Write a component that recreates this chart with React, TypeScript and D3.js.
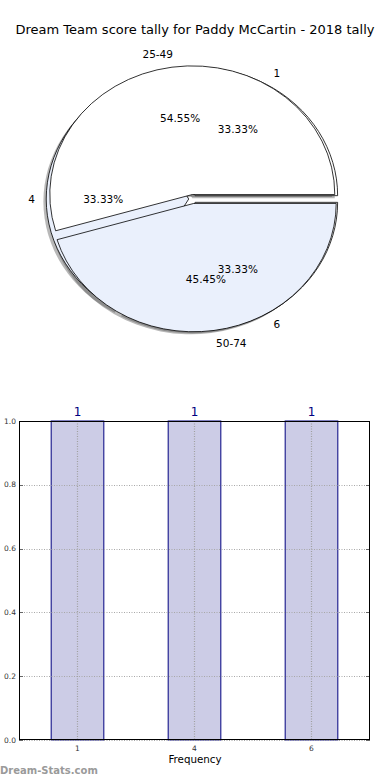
import { FC, useEffect, useRef } from 'react';
import * as d3 from 'd3';

const title = 'Dream Team score tally for Paddy McCartin - 2018 tally';

// outer pie: score bands
const bandLabels = ['25-49', '50-74'];
const bandCounts = [6, 5];

// inner pie: how often each score came up
const scoreLabels = ['1', '4', '6'];
const scoreCounts = [1, 1, 1];

// frequency bars
const freqCategories = ['1', '4', '6'];
const freqValues = [1, 1, 1];
const yTicks = [0, 0.2, 0.4, 0.6, 0.8, 1.0];

const sliceColors = ['#ffffff', '#eaf0fc'];

const App: FC = () => {
  const chartRef = useRef<SVGSVGElement>(null);

  useEffect(() => {
    document.body.style.margin = '0';
    const font = '"DejaVu Sans", sans-serif';
    const svg = d3.select(chartRef.current);
    svg.selectAll('*').remove();

    svg
      .append('text')
      .attr('x', 195)
      .attr('y', 34)
      .attr('text-anchor', 'middle')
      .style('font-family', font)
      .style('font-size', '13px')
      .text(title);

    // Pie, stretched into an ellipse (unequal aspect)
    const cx = 193;
    const cy = 199;
    const sx = 142.5;
    const sy = 128.5;

    const pies = [
      { labels: scoreLabels, values: scoreCounts, explode: 0.03 },
      { labels: bandLabels, values: bandCounts, explode: 0.035 },
    ];

    const pieGen = d3
      .pie<number>()
      .sort(null)
      .startAngle(Math.PI / 2)
      .endAngle(Math.PI / 2 - 2 * Math.PI);
    const arcGen = d3.arc<d3.PieArcDatum<number>>().innerRadius(0).outerRadius(1);

    const shadowLayer = svg.append('g');
    const wedgeLayer = svg.append('g');
    const textLayer = svg
      .append('g')
      .style('font-family', font)
      .style('font-size', '10.5px');

    pies.forEach((p) => {
      const total = d3.sum(p.values);
      const arcs = pieGen(p.values);
      arcs.forEach((a, i) => {
        const m = (a.startAngle + a.endAngle) / 2;
        const ux = Math.sin(m);
        const uy = Math.cos(m);
        const ox = cx + p.explode * ux * sx;
        const oy = cy - p.explode * uy * sy;
        const path = arcGen(a) || '';
        const fill = sliceColors[i % sliceColors.length];

        shadowLayer
          .append('path')
          .attr('d', path)
          .attr('transform', `translate(${ox - 0.02 * sx},${oy + 0.02 * sy}) scale(${sx},${sy})`)
          .attr('fill', '#4d4d4d')
          .attr('fill-opacity', 0.4);

        wedgeLayer
          .append('path')
          .attr('d', path)
          .attr('transform', `translate(${ox},${oy}) scale(${sx},${sy})`)
          .attr('fill', fill)
          .attr('stroke', '#000')
          .attr('stroke-width', 0.8)
          .attr('vector-effect', 'non-scaling-stroke');

        // label
        const lx = ox + 1.1 * ux * sx;
        const ly = oy - 1.1 * uy * sy;
        textLayer
          .append('text')
          .attr('x', lx + (lx > cx ? 0 : 3))
          .attr('y', ly)
          .attr('dy', '0.35em')
          .attr('text-anchor', lx > cx ? 'start' : 'end')
          .text(p.labels[i]);

        // percentage
        textLayer
          .append('text')
          .attr('x', ox + 0.6 * ux * sx)
          .attr('y', oy - 0.6 * uy * sy)
          .attr('dy', '0.35em')
          .attr('text-anchor', 'middle')
          .text(d3.format('.2f')((p.values[i] / total) * 100) + '%');
      });
    });

    // Bar chart
    const left = 19;
    const right = 370;
    const top = 421;
    const bottom = 740;

    const x = d3
      .scaleBand()
      .domain(freqCategories)
      .range([left, right])
      .paddingInner(0.55)
      .paddingOuter(0.275);
    const y = d3.scaleLinear().domain([0, 1]).range([bottom, top]);

    const chart = svg.append('g').style('font-family', font);

    chart
      .selectAll('rect.bar')
      .data(freqValues)
      .enter()
      .append('rect')
      .attr('class', 'bar')
      .attr('x', (_d, i) => x(freqCategories[i])!)
      .attr('y', (d) => y(d))
      .attr('width', x.bandwidth())
      .attr('height', (d) => bottom - y(d))
      .attr('fill', '#ccccE6')
      .attr('stroke', '#000080')
      .attr('stroke-width', 1);

    // grid
    yTicks.forEach((t) => {
      const yy = Math.round(y(t)) + 0.5;
      chart
        .append('line')
        .attr('x1', left)
        .attr('x2', right)
        .attr('y1', yy)
        .attr('y2', yy)
        .attr('stroke', '#a8a8a8')
        .attr('stroke-dasharray', '1,1.5');
      chart
        .append('line')
        .attr('x1', left)
        .attr('x2', left + 4)
        .attr('y1', yy)
        .attr('y2', yy)
        .attr('stroke', '#666');
      chart
        .append('line')
        .attr('x1', right - 4)
        .attr('x2', right)
        .attr('y1', yy)
        .attr('y2', yy)
        .attr('stroke', '#666');
      chart
        .append('text')
        .attr('x', 16)
        .attr('y', y(t))
        .attr('dy', '0.35em')
        .attr('text-anchor', 'end')
        .style('font-size', '7.5px')
        .attr('fill', '#333')
        .text(d3.format('.1f')(t));
    });

    freqCategories.forEach((c, i) => {
      const xc = Math.round(x(c)! + x.bandwidth() / 2) + 0.5;
      chart
        .append('line')
        .attr('x1', xc)
        .attr('x2', xc)
        .attr('y1', top)
        .attr('y2', bottom)
        .attr('stroke', '#a0a0a0')
        .attr('stroke-width', 1.2)
        .attr('stroke-dasharray', '1,1.5');
      chart
        .append('text')
        .attr('x', xc)
        .attr('y', 751)
        .attr('text-anchor', 'middle')
        .style('font-size', '7.5px')
        .attr('fill', '#333')
        .text(c);
      chart
        .append('text')
        .attr('x', xc)
        .attr('y', y(freqValues[i]) - 5)
        .attr('text-anchor', 'middle')
        .style('font-size', '12px')
        .attr('fill', '#000080')
        .text(String(freqValues[i]));
    });

    chart
      .append('rect')
      .attr('x', left + 0.5)
      .attr('y', top + 0.5)
      .attr('width', right - left - 1)
      .attr('height', bottom - top - 1)
      .attr('fill', 'none')
      .attr('stroke', '#000')
      .attr('stroke-width', 1);

    chart
      .append('text')
      .attr('x', 195)
      .attr('y', 763)
      .attr('text-anchor', 'middle')
      .style('font-size', '10.3px')
      .text('Frequency');

    svg
      .append('text')
      .attr('x', 0)
      .attr('y', 774)
      .style('font-family', font)
      .style('font-size', '10px')
      .style('font-weight', 'bold')
      .attr('fill', '#9a9a9a')
      .text('Dream-Stats.com');
  }, []);

  return <svg ref={chartRef} width={390} height={780} style={{ display: 'block' }} />;
};

export default App;
